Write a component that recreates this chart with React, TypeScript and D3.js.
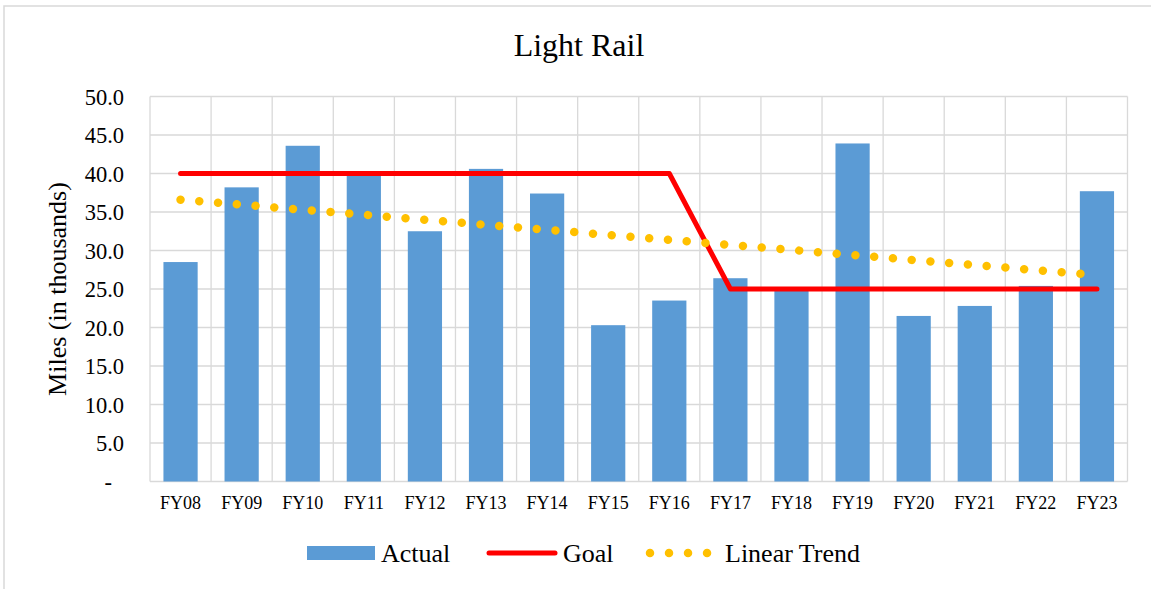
import React, { useEffect, useRef } from 'react';
import * as d3 from 'd3';

const categories = [
  'FY08', 'FY09', 'FY10', 'FY11', 'FY12', 'FY13', 'FY14', 'FY15',
  'FY16', 'FY17', 'FY18', 'FY19', 'FY20', 'FY21', 'FY22', 'FY23',
];
const actual = [
  28.5, 38.2, 43.6, 39.7, 32.5, 40.6, 37.4, 20.3,
  23.5, 26.4, 25.1, 43.9, 21.5, 22.8, 25.4, 37.7,
];
const goal = [40, 40, 40, 40, 40, 40, 40, 40, 40, 25, 25, 25, 25, 25, 25, 25];
// linear trend, read at its two ends
const trendCats = ['FY08', 'FY23'];
const trendValues = [36.6, 26.8];
const yTicks = [0, 5, 10, 15, 20, 25, 30, 35, 40, 45, 50];

const FONT = '"Liberation Serif", "Times New Roman", serif';
const BLUE = '#5B9BD5';
const RED = '#FF0000';
const GOLD = '#FFC000';
const GRID = '#D9D9D9';

const App = () => {
  const ref = useRef<SVGSVGElement>(null);

  useEffect(() => {
    const svg = d3.select(ref.current);
    svg.selectAll('*').remove();

    const width = 1151;
    const height = 589;
    const plot = { left: 150, right: 1127.5, top: 96.5, bottom: 481.5 };

    const x = d3
      .scaleBand<string>()
      .domain(categories)
      .range([plot.left, plot.right])
      .paddingInner(0.44)
      .paddingOuter(0.22);
    const y = d3.scaleLinear().domain([0, 50]).range([plot.bottom, plot.top]);
    const cx = (c: string) => (x(c) ?? 0) + x.bandwidth() / 2;

    svg.append('rect').attr('width', width).attr('height', height).attr('fill', '#fff');

    // chart frame (right & bottom fall outside the picture)
    svg
      .append('rect')
      .attr('x', 4)
      .attr('y', 6)
      .attr('width', width + 20)
      .attr('height', height + 20)
      .attr('fill', 'none')
      .attr('stroke', GRID)
      .attr('stroke-width', 1.5);

    svg
      .append('text')
      .attr('x', 579)
      .attr('y', 56)
      .attr('text-anchor', 'middle')
      .attr('font-family', FONT)
      .attr('font-size', 32)
      .attr('fill', '#000')
      .text('Light Rail');

    const grid = svg.append('g').attr('stroke', GRID).attr('stroke-width', 1.3);
    grid
      .selectAll('.h')
      .data(yTicks)
      .join('line')
      .attr('x1', plot.left)
      .attr('x2', plot.right)
      .attr('y1', (d) => y(d))
      .attr('y2', (d) => y(d));
    const bounds = categories
      .map((c) => (x(c) ?? 0) - (x.step() * x.paddingInner()) / 2)
      .concat([plot.right]);
    grid
      .selectAll('.v')
      .data(bounds)
      .join('line')
      .attr('x1', (d) => d)
      .attr('x2', (d) => d)
      .attr('y1', plot.top)
      .attr('y2', plot.bottom);

    svg
      .append('g')
      .selectAll('text')
      .data(yTicks)
      .join('text')
      .attr('x', (d) => (d === 0 ? 112 : 124))
      .attr('y', (d) => y(d) + 8)
      .attr('text-anchor', 'end')
      .attr('font-family', FONT)
      .attr('font-size', 22.5)
      .attr('fill', '#000')
      .text((d) => (d === 0 ? '-' : d.toFixed(1)));

    svg
      .append('g')
      .selectAll('text')
      .data(categories)
      .join('text')
      .attr('x', (d) => cx(d))
      .attr('y', 509)
      .attr('text-anchor', 'middle')
      .attr('font-family', FONT)
      .attr('font-size', 18)
      .attr('fill', '#000')
      .text((d) => d);

    svg
      .append('text')
      .attr('transform', `translate(66,289) rotate(-90)`)
      .attr('text-anchor', 'middle')
      .attr('font-family', FONT)
      .attr('font-size', 26)
      .attr('fill', '#000')
      .text('Miles (in thousands)');

    svg
      .append('g')
      .selectAll('rect')
      .data(actual)
      .join('rect')
      .attr('x', (_, i) => x(categories[i]) ?? 0)
      .attr('y', (d) => y(d))
      .attr('width', x.bandwidth())
      .attr('height', (d) => y(0) - y(d))
      .attr('fill', BLUE);

    const line = d3
      .line<number>()
      .x((_, i) => cx(categories[i]))
      .y((d) => y(d));

    svg
      .append('path')
      .attr('d', line(goal))
      .attr('fill', 'none')
      .attr('stroke', RED)
      .attr('stroke-width', 5)
      .attr('stroke-linecap', 'round')
      .attr('stroke-linejoin', 'round');

    const trendLine = d3
      .line<number>()
      .x((_, i) => cx(trendCats[i]))
      .y((d) => y(d));
    svg
      .append('path')
      .attr('d', trendLine(trendValues))
      .attr('fill', 'none')
      .attr('stroke', GOLD)
      .attr('stroke-width', 8.5)
      .attr('stroke-linecap', 'round')
      .attr('stroke-dasharray', '0.01 18.8');

    // legend
    const legend = svg.append('g').attr('font-family', FONT).attr('font-size', 26).attr('fill', '#000');
    legend
      .append('rect')
      .attr('x', 307)
      .attr('y', 546)
      .attr('width', 68)
      .attr('height', 14)
      .attr('fill', BLUE);
    legend.append('text').attr('x', 381).attr('y', 562).text('Actual');
    legend
      .append('line')
      .attr('x1', 489)
      .attr('x2', 555)
      .attr('y1', 553)
      .attr('y2', 553)
      .attr('stroke', RED)
      .attr('stroke-width', 5)
      .attr('stroke-linecap', 'round');
    legend.append('text').attr('x', 563).attr('y', 562).text('Goal');
    legend
      .append('line')
      .attr('x1', 650)
      .attr('x2', 708)
      .attr('y1', 553)
      .attr('y2', 553)
      .attr('stroke', GOLD)
      .attr('stroke-width', 8.5)
      .attr('stroke-linecap', 'round')
      .attr('stroke-dasharray', '0.01 19');
    legend.append('text').attr('x', 725).attr('y', 562).text('Linear Trend');
  }, []);

  return (
    <svg
      ref={ref}
      width={1151}
      height={589}
      style={{ position: 'absolute', left: 0, top: 0, display: 'block' }}
    />
  );
};

export default App;
